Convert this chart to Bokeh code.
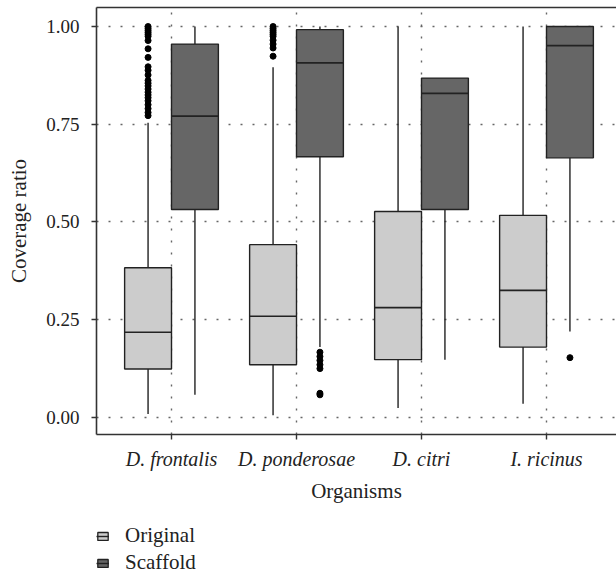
from bokeh.plotting import figure
from bokeh.layouts import column
from bokeh.models import Range1d, FixedTicker, LinearAxis, Legend, LegendItem, ColumnDataSource
from bokeh.embed import file_html
from bokeh.resources import INLINE

# ---------------- data ----------------
organisms = ["D. frontalis", "D. ponderosae", "D. citri", "I. ricinus"]
groups = ["Original", "Scaffold"]

orig_lower = [0.009, 0.006, 0.024, 0.035]
orig_q1 = [0.124, 0.135, 0.148, 0.180]
orig_median = [0.218, 0.259, 0.281, 0.325]
orig_q3 = [0.383, 0.442, 0.527, 0.517]
orig_upper = [0.754, 0.896, 1.000, 1.000]

scaf_lower = [0.058, 0.180, 0.148, 0.220]
scaf_q1 = [0.532, 0.667, 0.532, 0.664]
scaf_median = [0.771, 0.907, 0.829, 0.951]
scaf_q3 = [0.955, 0.992, 0.868, 1.000]
scaf_upper = [1.000, 1.000, 0.868, 1.000]

orig_outliers = [
    [1.000, 0.995, 0.990, 0.985, 0.980, 0.975, 0.964, 0.943, 0.921, 0.897,
     0.888, 0.876, 0.862, 0.855, 0.848, 0.840, 0.832, 0.825, 0.818, 0.810,
     0.800, 0.790, 0.780, 0.772],
    [1.000, 0.995, 0.990, 0.985, 0.980, 0.975, 0.965, 0.955, 0.945, 0.924],
    [],
    [],
]
scaf_outliers = [
    [],
    [0.167, 0.156, 0.146, 0.135, 0.125, 0.062, 0.058],
    [],
    [0.153],
]

y_ticks = [0.0, 0.25, 0.50, 0.75, 1.00]
y_tick_labels = ["0.00", "0.25", "0.50", "0.75", "1.00"]

fill_colors = {"Original": "#cccccc", "Scaffold": "#666666"}
dodge = 0.1875
box_width = 0.375
FONT = "Liberation Serif"
LINE = "#222222"

p = figure(width=616, height=505, output_backend="svg", toolbar_location=None,
           x_range=Range1d(0.4, 4.56), y_range=Range1d(-0.0435, 1.0486),
           min_border_left=96, min_border_right=0, min_border_top=7,
           min_border_bottom=71)
p.outline_line_color = None
p.background_fill_color = "white"

positions = list(range(1, len(organisms) + 1))

sources = {}
for g, off, lo, q1, md, q3, up, outs in [
    ("Original", -dodge, orig_lower, orig_q1, orig_median, orig_q3, orig_upper, orig_outliers),
    ("Scaffold", dodge, scaf_lower, scaf_q1, scaf_median, scaf_q3, scaf_upper, scaf_outliers),
]:
    xs = [x + off for x in positions]
    src = ColumnDataSource(dict(x=xs, lo=lo, q1=q1, md=md, q3=q3, up=up,
                                left=[x - box_width / 2 for x in xs],
                                right=[x + box_width / 2 for x in xs]))
    sources[g] = src
    p.segment(x0="x", y0="q3", x1="x", y1="up", source=src, line_color=LINE, line_width=1.4)
    p.segment(x0="x", y0="q1", x1="x", y1="lo", source=src, line_color=LINE, line_width=1.4)
    p.quad(left="left", right="right", bottom="q1", top="q3", source=src,
           fill_color=fill_colors[g], line_color=LINE, line_width=1.4)
    p.segment(x0="left", y0="md", x1="right", y1="md", source=src,
              line_color=LINE, line_width=1.7)
    ox, oy = [], []
    for x, vals in zip(xs, outs):
        ox += [x] * len(vals)
        oy += vals
    p.scatter(ox, oy, size=6, color="black")

# axes
p.xaxis.ticker = FixedTicker(ticks=positions)
p.xaxis.major_label_overrides = {i: n for i, n in zip(positions, organisms)}
p.xaxis.major_label_text_font_style = "italic"
p.xaxis.axis_label = "Organisms"
p.yaxis.ticker = FixedTicker(ticks=y_ticks)
p.yaxis.major_label_overrides = {t: l for t, l in zip(y_ticks, y_tick_labels)}
p.yaxis.axis_label = "Coverage ratio"

for ax in [p.xaxis[0], p.yaxis[0]]:
    ax.axis_line_color = "#333333"
    ax.axis_line_width = 1.6
    ax.major_tick_line_color = "#333333"
    ax.major_tick_line_width = 1.4
    ax.major_tick_out = 5
    ax.major_tick_in = 0
    ax.minor_tick_line_color = None
    ax.major_label_text_font = FONT
    ax.major_label_text_font_size = "20px"
    ax.major_label_text_color = "#222222"
    ax.axis_label_text_font = FONT
    ax.axis_label_text_font_size = "21px"
    ax.axis_label_text_font_style = "normal"
    ax.axis_label_text_color = "#222222"
p.yaxis.major_label_text_font_size = "19px"
p.xaxis.major_label_standoff = 8
p.xaxis.axis_label_standoff = 6
p.yaxis.major_label_standoff = 12
p.yaxis.axis_label_standoff = 12

top_axis = LinearAxis(ticker=FixedTicker(ticks=[]), major_tick_out=0, major_tick_in=0,
                      minor_tick_out=0, axis_line_color="#333333", axis_line_width=1.6,
                      major_label_text_font_size="0px")
p.add_layout(top_axis, "above")

# grid
p.xgrid.ticker = FixedTicker(ticks=positions)
p.ygrid.ticker = FixedTicker(ticks=y_ticks)
for gr in [p.xgrid[0], p.ygrid[0]]:
    gr.grid_line_color = "#666666"
    gr.grid_line_width = 1.4
    gr.grid_line_dash = "2 10"

# ---------------- legend strip below the plot ----------------
# the legend renderers reuse the boxplot data; the strip's ranges keep them off-view
lg = figure(width=616, height=70, output_backend="svg", toolbar_location=None,
            x_range=Range1d(0.4, 4.56), y_range=Range1d(10, 11),
            x_axis_type=None, y_axis_type=None,
            min_border_left=0, min_border_right=0, min_border_top=0, min_border_bottom=0)
lg.outline_line_color = None
lg.xgrid.visible = False
lg.ygrid.visible = False

items = []
for g in groups:
    src = sources[g]
    r_box = lg.quad(left="left", right="right", top="q3", bottom="q1", source=src,
                    fill_color=fill_colors[g], line_color=LINE, line_width=1.3)
    r_med = lg.segment(x0="left", y0="md", x1="right", y1="md", source=src,
                       line_color=LINE, line_width=1.4)
    items.append(LegendItem(label=g, renderers=[r_box, r_med]))

legend = Legend(items=items, location=(0, 0), orientation="vertical",
                background_fill_alpha=0, border_line_alpha=0, padding=0, margin=0,
                spacing=2, glyph_width=13, glyph_height=10, label_standoff=16,
                label_text_font=FONT, label_text_font_size="21px",
                label_text_color="#222222")
lg.add_layout(legend)

layout = column(p, lg, spacing=0)
open("out.html", "w").write(file_html(layout, INLINE))
